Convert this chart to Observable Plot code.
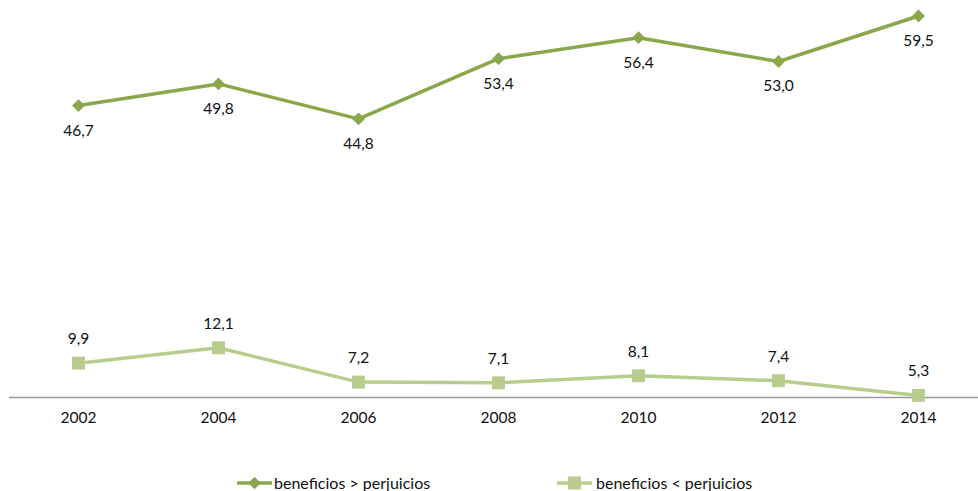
<!DOCTYPE html>
<html>
<head>
<meta charset="utf-8">
<script src="https://cdn.jsdelivr.net/npm/d3@7"></script>
<script src="https://cdn.jsdelivr.net/npm/@observablehq/plot@0.6"></script>
<style>
  html, body { margin: 0; padding: 0; background: #fff; overflow: hidden; }
  body { width: 978px; height: 491px; position: relative; font-family: Lato, "Open Sans", sans-serif; }
  #legend { position: absolute; top: 460px; left: 0; width: 978px; height: 31px; }
  .item { position: absolute; top: 13px; display: flex; align-items: center; font-size: 16px; line-height: 20px; color: #111; }
  .item svg { display: block; }
</style>
</head>
<body>
<div id="chart"></div>
<div id="legend"></div>
<script>
const years = ["2002", "2004", "2006", "2008", "2010", "2012", "2014"];
const seriesNames = ["beneficios > perjuicios", "beneficios < perjuicios"];
const masValues = [46.7, 49.8, 44.8, 53.4, 56.4, 53.0, 59.5];
const menosValues = [9.9, 12.1, 7.2, 7.1, 8.1, 7.4, 5.3];
const colors = ["#8aa84b", "#b8cd8d"];

const diamondSymbol = {
  draw(ctx, size) {
    const r = Math.sqrt(size / 2);
    ctx.moveTo(0, -r); ctx.lineTo(r, 0); ctx.lineTo(0, r); ctx.lineTo(-r, 0); ctx.closePath();
  }
};

const data = [
  ...years.map((y, i) => ({year: y, value: masValues[i], series: seriesNames[0]})),
  ...years.map((y, i) => ({year: y, value: menosValues[i], series: seriesNames[1]}))
];
const upperData = data.filter(d => d.series === seriesNames[0]);
const lowerData = data.filter(d => d.series === seriesNames[1]);
const fmt = v => d3.format(".1f")(v).replace(".", ",");

const chart = Plot.plot({
  width: 978,
  height: 460,
  marginLeft: 9,
  marginRight: 1,
  marginTop: 12,
  marginBottom: 63,
  style: {fontFamily: "Lato, 'Open Sans', sans-serif", fontSize: "15.5px", color: "#111", background: "#fff"},
  x: {type: "point", domain: years, range: [78, 918], padding: 0},
  y: {domain: [5, 60], axis: null},
  marks: [
    Plot.frame({anchor: "bottom", stroke: "#9a9a9a", strokeWidth: 1.3}),
    Plot.axisX({tickSize: 0, tickPadding: 14, fontSize: 15.5, label: null}),
    Plot.line(lowerData, {x: "year", y: "value", stroke: colors[1], strokeWidth: 3.5}),
    Plot.dot(lowerData, {x: "year", y: "value", symbol: "square", r: 7.3, fill: colors[1], stroke: "none"}),
    Plot.text(lowerData, {x: "year", y: "value", text: d => fmt(d.value), dy: -24, fontSize: 15.5, fill: "#111"}),
    Plot.line(upperData, {x: "year", y: "value", stroke: colors[0], strokeWidth: 3.5}),
    Plot.dot(upperData, {x: "year", y: "value", symbol: diamondSymbol, r: 5.1, fill: colors[0], stroke: "none"}),
    Plot.text(upperData, {x: "year", y: "value", text: d => fmt(d.value), dy: 25, fontSize: 15.5, fill: "#111"})
  ]
});
document.getElementById("chart").appendChild(chart);

// Legend
const legend = document.getElementById("legend");
const lefts = [237, 557];
seriesNames.forEach((name, i) => {
  const item = document.createElement("div");
  item.className = "item";
  item.style.left = lefts[i] + "px";
  const marker = i === 0
    ? `<path d="M17.5,-6.3 L23.8,0 L17.5,6.3 L11.2,0 Z" fill="${colors[0]}"/>`
    : `<rect x="11" y="-6.5" width="13" height="13" fill="${colors[1]}"/>`;
  item.innerHTML = `<svg width="36" height="16" viewBox="0 -8 36 16"><line x1="0" x2="35" y1="0" y2="0" stroke="${colors[i]}" stroke-width="3.5"/>${marker}</svg><span style="margin-left:${i === 0 ? 1 : 3}px">${name}</span>`;
  legend.appendChild(item);
});
</script>
</body>
</html>
